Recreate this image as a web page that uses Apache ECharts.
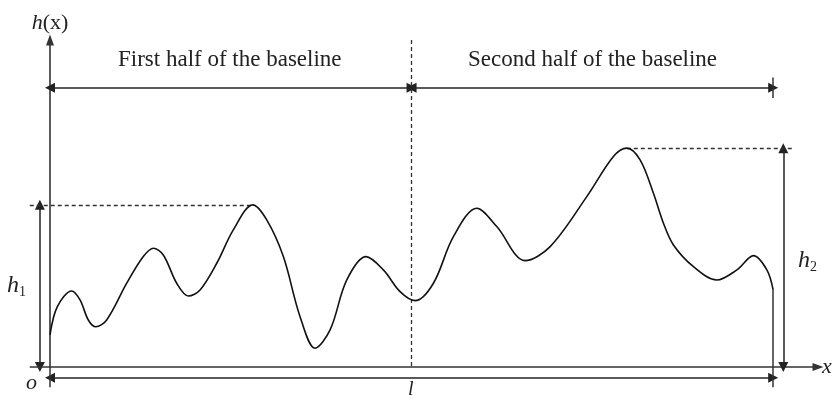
<!DOCTYPE html>
<html>
<head>
<meta charset="utf-8">
<script src="https://cdn.jsdelivr.net/npm/echarts@6/dist/echarts.min.js"></script>
<style>
  html, body { margin: 0; padding: 0; background: #fff; }
  #chart { width: 833px; height: 400px; }
</style>
</head>
<body>
<div id="chart"></div>
<script>
// profile h(x), x in percent of the baseline l
var curveX = [0, 1.0, 3.00, 4.15, 5.30, 6.32, 7.84, 10.61, 12.90, 14.29, 15.67, 17.52, 19.13, 20.75, 23.06, 25.35, 28.04,
  29.97, 32.27, 34.58, 36.65, 38.73, 41.04, 43.71, 46.10, 48.41, 50.48, 53.02, 55.78, 59.02, 61.78, 65.70, 69.16, 74.23, 77.91,
  79.76, 81.60, 83.44, 84.83, 86.21, 88.98, 92.21, 94.98, 97.28, 99.13, 100];
var curveY = [4.43, 8.3, 10.51, 9.27, 6.50, 5.57, 6.50, 11.58, 15.26, 16.42, 15.49, 11.58, 9.82, 10.65, 14.34, 18.95, 22.41,
  20.33, 15.26, 6.96, 2.59, 5.12, 12.03, 15.26, 13.42, 10.41, 9.17, 11.58, 18.02, 21.95, 19.41, 14.70, 16.64, 23.55, 29.09,
  30.25, 28.63, 24.02, 19.88, 16.87, 13.87, 12.03, 13.42, 15.39, 13.42, 10.65];
var baseLen = 100;
var halfNames = ["First half of the baseline", "Second half of the baseline"];

var xMax = 106.2;
var yMax = 45.2;

// highest point of each half
function peakOf(from, to) {
  var best = { x: 0, y: -1 };
  for (var i = 0; i < curveX.length; i++) {
    if (curveX[i] >= from && curveX[i] <= to && curveY[i] > best.y) {
      best = { x: curveX[i], y: curveY[i] };
    }
  }
  return best;
}
var mid = baseLen / 2;
var p1 = peakOf(0, mid);
var p2 = peakOf(mid, baseLen);
var last = curveY[curveY.length - 1];

var curve = curveX.map(function (x, i) { return [x, curveY[i]]; });

var ink = "#222";
var serif = "Liberation Serif";

// dimension arrows, plain ticks and dashed guides
var arrowSegs = [
  { coords: [[0, 38.6], [mid, 38.6]] },
  { coords: [[mid, 38.6], [baseLen, 38.6]] },
  { coords: [[0, -1.5], [baseLen, -1.5]] },
  { coords: [[-1.4, p1.y], [-1.4, 0]] },
  { coords: [[101.4, p2.y], [101.4, 0]] },
];
var plainSegs = [
  { coords: [[baseLen, 40.0], [baseLen, 37.2]] },
  { coords: [[baseLen, last], [baseLen, -2.8]] },
  { coords: [[0, 0], [0, -2.8]] },
  { coords: [[-2.8, 0], [0, 0]] },
];
var dashSegs = [
  { coords: [[mid, yMax], [mid, 0]] },
  { coords: [[-2.8, p1.y], [p1.x, p1.y]] },
  { coords: [[p2.x, p2.y], [102.8, p2.y]] },
];

var italic = { fontFamily: serif, fontStyle: "italic", fontSize: 24, fill: ink, color: ink };
var sub = { fontFamily: serif, fontSize: 14, fill: ink, color: ink, padding: [13, 0, 0, 0] };

var myChart = echarts.init(document.getElementById("chart"));
var option = {
  animation: false,
  backgroundColor: "#fff",
  grid: { left: 50, top: 40, width: 768, height: 327, outerBoundsMode: "none" },
  xAxis: {
    type: "value",
    min: 0,
    max: xMax,
    name: "x",
    nameLocation: "end",
    nameGap: 4,
    nameTextStyle: { fontFamily: serif, fontStyle: "italic", fontSize: 22, color: ink },
    axisLine: {
      onZero: false,
      symbol: ["none", "triangle"],
      symbolSize: [8, 11],
      lineStyle: { color: "#333", width: 1.6 },
    },
    axisTick: { show: false },
    axisLabel: { show: false },
    splitLine: { show: false },
  },
  yAxis: {
    type: "value",
    min: 0,
    max: yMax,
    name: "{i|h}(x)",
    nameLocation: "end",
    nameGap: 6,
    nameTextStyle: {
      fontFamily: serif, fontSize: 22, color: ink,
      rich: { i: { fontFamily: serif, fontStyle: "italic", fontSize: 22, color: ink } },
    },
    axisLine: {
      onZero: false,
      symbol: ["none", "triangle"],
      symbolSize: [8, 11],
      lineStyle: { color: "#333", width: 1.6 },
    },
    axisTick: { show: false },
    axisLabel: { show: false },
    splitLine: { show: false },
  },
  series: [
    {
      type: "line",
      data: curve,
      smooth: 0.34,
      showSymbol: false,
      lineStyle: { color: "#111", width: 1.6 },
      z: 5,
    },
    {
      type: "lines",
      coordinateSystem: "cartesian2d",
      clip: false,
      symbol: ["triangle", "triangle"],
      symbolSize: 10,
      lineStyle: { color: ink, width: 1.5, opacity: 1 },
      data: arrowSegs,
    },
    {
      type: "lines",
      coordinateSystem: "cartesian2d",
      clip: false,
      symbol: ["none", "none"],
      lineStyle: { color: "#333", width: 1.5, opacity: 1 },
      data: plainSegs,
    },
    {
      type: "lines",
      coordinateSystem: "cartesian2d",
      clip: false,
      symbol: ["none", "none"],
      lineStyle: { color: "#333", width: 1.3, type: [4, 3], opacity: 1 },
      data: dashSegs,
    },
  ],
  graphic: [
    { type: "text", left: 118, top: 48, style: { text: halfNames[0], fontFamily: serif, fontSize: 23, fill: ink } },
    { type: "text", left: 468, top: 48, style: { text: halfNames[1], fontFamily: serif, fontSize: 23, fill: ink } },
    { type: "text", left: 26, top: 372, style: { text: "o", fontFamily: serif, fontStyle: "italic", fontSize: 22, fill: ink } },
    { type: "text", left: 408, top: 380, style: { text: "l", fontFamily: serif, fontStyle: "italic", fontSize: 20, fill: ink } },
    {
      type: "text", left: 7, top: 274,
      style: { text: "{i|h}{s|1}", rich: { i: italic, s: sub } },
    },
    {
      type: "text", left: 798, top: 249,
      style: { text: "{i|h}{s|2}", rich: { i: italic, s: sub } },
    },
  ],
};
option && myChart.setOption(option);
</script>
</body>
</html>
